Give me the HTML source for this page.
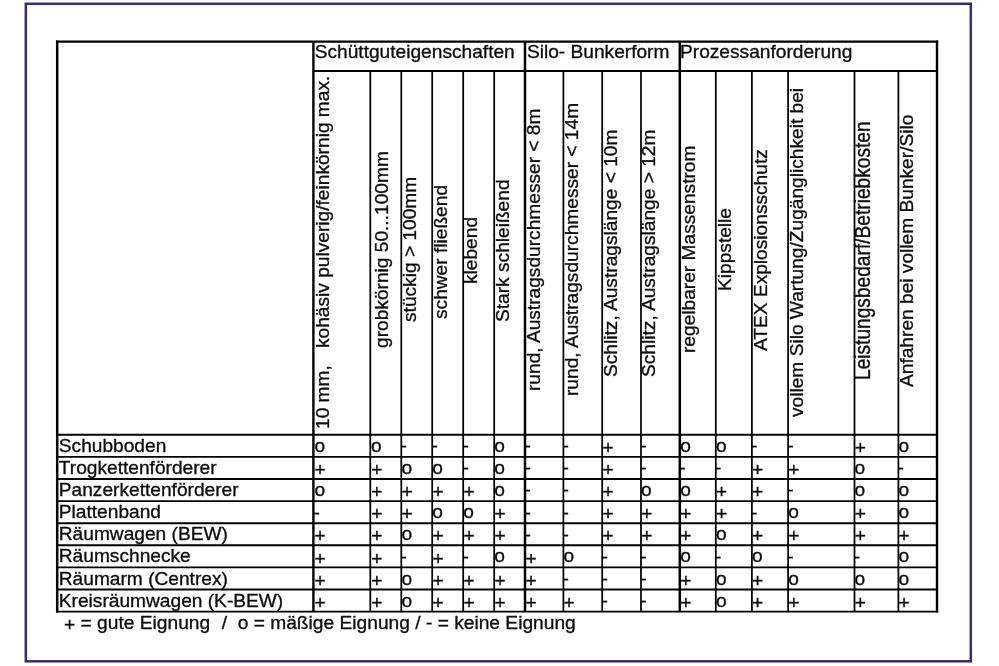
<!DOCTYPE html>
<html lang="de"><head><meta charset="utf-8"><title>Eignungstabelle</title>
<style>
html,body{margin:0;padding:0;background:#fff;}
body{width:999px;height:666px;position:relative;overflow:hidden;font-family:"Liberation Sans",sans-serif;color:#0c0c0c;}
svg{position:absolute;left:0;top:0;}
.t,.v{-webkit-text-stroke:0.33px #0c0c0c;position:absolute;white-space:nowrap;font-size:19.15px;line-height:1;transform-origin:0 0;}
</style></head><body>
<svg width="999" height="666" viewBox="0 0 999 666">
<rect x="25.8" y="3.75" width="945.0" height="657.55" fill="none" stroke="#322c84" stroke-width="2.5"/>
<g stroke="#000" fill="none">
<line x1="57.20" y1="40.40" x2="57.20" y2="612.55" stroke-width="2.5"/>
<line x1="937.00" y1="40.40" x2="937.00" y2="612.55" stroke-width="2.4"/>
<line x1="55.95" y1="41.60" x2="938.20" y2="41.60" stroke-width="2.4"/>
<line x1="55.95" y1="611.60" x2="938.20" y2="611.60" stroke-width="1.9"/>
<line x1="313.40" y1="41.60" x2="313.40" y2="611.60" stroke-width="2.4"/>
<line x1="370.30" y1="71.05" x2="370.30" y2="611.60" stroke-width="1.75"/>
<line x1="401.30" y1="71.05" x2="401.30" y2="611.60" stroke-width="1.75"/>
<line x1="432.20" y1="71.05" x2="432.20" y2="611.60" stroke-width="1.75"/>
<line x1="463.20" y1="71.05" x2="463.20" y2="611.60" stroke-width="1.75"/>
<line x1="494.20" y1="71.05" x2="494.20" y2="611.60" stroke-width="1.75"/>
<line x1="525.00" y1="41.60" x2="525.00" y2="611.60" stroke-width="2.5"/>
<line x1="563.40" y1="71.05" x2="563.40" y2="611.60" stroke-width="1.75"/>
<line x1="602.20" y1="71.05" x2="602.20" y2="611.60" stroke-width="1.75"/>
<line x1="641.00" y1="71.05" x2="641.00" y2="611.60" stroke-width="1.75"/>
<line x1="679.80" y1="41.60" x2="679.80" y2="611.60" stroke-width="2.5"/>
<line x1="715.80" y1="71.05" x2="715.80" y2="611.60" stroke-width="1.75"/>
<line x1="751.90" y1="71.05" x2="751.90" y2="611.60" stroke-width="1.75"/>
<line x1="788.10" y1="71.05" x2="788.10" y2="611.60" stroke-width="1.75"/>
<line x1="854.50" y1="71.05" x2="854.50" y2="611.60" stroke-width="1.75"/>
<line x1="898.40" y1="71.05" x2="898.40" y2="611.60" stroke-width="1.75"/>
<line x1="313.40" y1="71.05" x2="937.00" y2="71.05" stroke-width="1.9"/>
<line x1="57.20" y1="434.80" x2="937.00" y2="434.80" stroke-width="1.9"/>
<line x1="57.20" y1="456.90" x2="937.00" y2="456.90" stroke-width="1.9"/>
<line x1="57.20" y1="479.00" x2="937.00" y2="479.00" stroke-width="1.9"/>
<line x1="57.20" y1="501.10" x2="937.00" y2="501.10" stroke-width="1.9"/>
<line x1="57.20" y1="523.20" x2="937.00" y2="523.20" stroke-width="1.9"/>
<line x1="57.20" y1="545.30" x2="937.00" y2="545.30" stroke-width="1.9"/>
<line x1="57.20" y1="567.40" x2="937.00" y2="567.40" stroke-width="1.9"/>
<line x1="57.20" y1="589.50" x2="937.00" y2="589.50" stroke-width="1.9"/>
</g></svg>
<div id="txt" style="position:absolute;left:0;top:0;width:999px;height:666px;will-change:transform">
<div class="t" style="left:314.70px;top:42.49px;">Schüttguteigenschaften</div>
<div class="t" style="left:526.90px;top:42.49px;">Silo- Bunkerform</div>
<div class="t" style="left:680.00px;top:42.49px;">Prozessanforderung</div>
<div class="v" style="left:313.19px;top:428.50px;transform:rotate(-90deg)">10 mm,<span style="letter-spacing:0.4px">   </span>kohäsiv pulverig/feinkörnig max.</div>
<div class="v" style="left:371.69px;top:347.75px;transform:rotate(-90deg)">grobkörnig 50...100mm</div>
<div class="v" style="left:400.14px;top:322.44px;transform:rotate(-90deg)">stückig > 100mm</div>
<div class="v" style="left:431.39px;top:318.90px;transform:rotate(-90deg)">schwer fließend</div>
<div class="v" style="left:460.99px;top:284.00px;transform:rotate(-90deg)">klebend</div>
<div class="v" style="left:493.19px;top:321.94px;transform:rotate(-90deg)">Stark schleißend</div>
<div class="v" style="left:524.29px;top:391.10px;transform:rotate(-90deg)">rund, Austragsdurchmesser < 8m</div>
<div class="v" style="left:562.29px;top:395.90px;transform:rotate(-90deg)">rund, Austragsdurchmesser < 14m</div>
<div class="v" style="left:601.19px;top:376.80px;transform:rotate(-90deg)">Schlitz, Austragslänge < 10m</div>
<div class="v" style="left:639.49px;top:376.80px;transform:rotate(-90deg)">Schlitz, Austragslänge > 12m</div>
<div class="v" style="left:678.79px;top:353.40px;transform:rotate(-90deg)">regelbarer Massenstrom</div>
<div class="v" style="left:714.89px;top:291.40px;transform:rotate(-90deg)">Kippstelle</div>
<div class="v" style="left:751.19px;top:350.90px;transform:rotate(-90deg)">ATEX Explosionsschutz</div>
<div class="v" style="left:786.69px;top:417.00px;transform:rotate(-90deg)">vollem Silo Wartung/Zugänglichkeit bei</div>
<div class="v" style="left:851.68px;top:380.40px;transform:rotate(-90deg) scaleY(1.13)">Leistungsbedarf/Betriebkosten</div>
<div class="v" style="left:897.29px;top:386.50px;transform:rotate(-90deg)">Anfahren bei vollem Bunker/Silo</div>
<div class="t" style="left:58.80px;top:435.94px;">Schubboden</div>
<div class="t" style="left:314.50px;top:435.94px;">o</div>
<div class="t" style="left:371.08px;top:435.94px;">o</div>
<div class="t" style="left:400.48px;top:436.24px;">-</div>
<div class="t" style="left:431.38px;top:436.24px;">-</div>
<div class="t" style="left:462.38px;top:436.24px;">-</div>
<div class="t" style="left:494.28px;top:435.94px;">o</div>
<div class="t" style="left:524.55px;top:436.24px;">-</div>
<div class="t" style="left:562.58px;top:436.24px;">-</div>
<div class="t" style="left:602.38px;top:438.04px;">+</div>
<div class="t" style="left:640.18px;top:436.24px;">-</div>
<div class="t" style="left:680.25px;top:435.94px;">o</div>
<div class="t" style="left:715.88px;top:435.94px;">o</div>
<div class="t" style="left:751.08px;top:436.24px;">-</div>
<div class="t" style="left:787.28px;top:436.24px;">-</div>
<div class="t" style="left:854.68px;top:438.04px;">+</div>
<div class="t" style="left:898.48px;top:435.94px;">o</div>
<div class="t" style="left:58.80px;top:458.04px;">Trogkettenförderer</div>
<div class="t" style="left:314.60px;top:460.14px;">+</div>
<div class="t" style="left:371.18px;top:460.14px;">+</div>
<div class="t" style="left:401.38px;top:458.04px;">o</div>
<div class="t" style="left:432.28px;top:458.04px;">o</div>
<div class="t" style="left:462.38px;top:458.34px;">-</div>
<div class="t" style="left:494.28px;top:458.04px;">o</div>
<div class="t" style="left:524.55px;top:458.34px;">-</div>
<div class="t" style="left:562.58px;top:458.34px;">-</div>
<div class="t" style="left:602.38px;top:460.14px;">+</div>
<div class="t" style="left:640.18px;top:458.34px;">-</div>
<div class="t" style="left:679.35px;top:458.34px;">-</div>
<div class="t" style="left:714.98px;top:458.34px;">-</div>
<div class="t" style="left:752.08px;top:460.14px;">+</div>
<div class="t" style="left:788.28px;top:460.14px;">+</div>
<div class="t" style="left:854.58px;top:458.04px;">o</div>
<div class="t" style="left:897.58px;top:458.34px;">-</div>
<div class="t" style="left:58.80px;top:480.14px;">Panzerkettenförderer</div>
<div class="t" style="left:314.50px;top:480.14px;">o</div>
<div class="t" style="left:371.18px;top:482.24px;">+</div>
<div class="t" style="left:401.48px;top:482.24px;">+</div>
<div class="t" style="left:432.38px;top:482.24px;">+</div>
<div class="t" style="left:463.38px;top:482.24px;">+</div>
<div class="t" style="left:494.28px;top:480.14px;">o</div>
<div class="t" style="left:524.55px;top:480.44px;">-</div>
<div class="t" style="left:562.58px;top:480.44px;">-</div>
<div class="t" style="left:602.38px;top:482.24px;">+</div>
<div class="t" style="left:641.08px;top:480.14px;">o</div>
<div class="t" style="left:680.25px;top:480.14px;">o</div>
<div class="t" style="left:715.98px;top:482.24px;">+</div>
<div class="t" style="left:752.08px;top:482.24px;">+</div>
<div class="t" style="left:787.28px;top:480.44px;">-</div>
<div class="t" style="left:854.58px;top:480.14px;">o</div>
<div class="t" style="left:898.48px;top:480.14px;">o</div>
<div class="t" style="left:58.80px;top:502.24px;">Plattenband</div>
<div class="t" style="left:313.60px;top:502.54px;">-</div>
<div class="t" style="left:371.18px;top:504.34px;">+</div>
<div class="t" style="left:401.48px;top:504.34px;">+</div>
<div class="t" style="left:432.28px;top:502.24px;">o</div>
<div class="t" style="left:463.28px;top:502.24px;">o</div>
<div class="t" style="left:494.38px;top:504.34px;">+</div>
<div class="t" style="left:524.55px;top:502.54px;">-</div>
<div class="t" style="left:562.58px;top:502.54px;">-</div>
<div class="t" style="left:602.38px;top:504.34px;">+</div>
<div class="t" style="left:641.18px;top:504.34px;">+</div>
<div class="t" style="left:680.35px;top:504.34px;">+</div>
<div class="t" style="left:715.98px;top:504.34px;">+</div>
<div class="t" style="left:751.08px;top:502.54px;">-</div>
<div class="t" style="left:788.18px;top:502.24px;">o</div>
<div class="t" style="left:854.68px;top:504.34px;">+</div>
<div class="t" style="left:898.48px;top:502.24px;">o</div>
<div class="t" style="left:58.80px;top:524.34px;">Räumwagen (BEW)</div>
<div class="t" style="left:314.60px;top:526.44px;">+</div>
<div class="t" style="left:371.18px;top:526.44px;">+</div>
<div class="t" style="left:401.38px;top:524.34px;">o</div>
<div class="t" style="left:432.38px;top:526.44px;">+</div>
<div class="t" style="left:463.38px;top:526.44px;">+</div>
<div class="t" style="left:494.38px;top:526.44px;">+</div>
<div class="t" style="left:524.55px;top:524.64px;">-</div>
<div class="t" style="left:562.58px;top:524.64px;">-</div>
<div class="t" style="left:602.38px;top:526.44px;">+</div>
<div class="t" style="left:641.18px;top:526.44px;">+</div>
<div class="t" style="left:680.35px;top:526.44px;">+</div>
<div class="t" style="left:715.88px;top:524.34px;">o</div>
<div class="t" style="left:752.08px;top:526.44px;">+</div>
<div class="t" style="left:788.28px;top:526.44px;">+</div>
<div class="t" style="left:854.68px;top:526.44px;">+</div>
<div class="t" style="left:898.58px;top:526.44px;">+</div>
<div class="t" style="left:58.80px;top:546.44px;">Räumschnecke</div>
<div class="t" style="left:314.60px;top:548.54px;">+</div>
<div class="t" style="left:371.18px;top:548.54px;">+</div>
<div class="t" style="left:400.48px;top:546.74px;">-</div>
<div class="t" style="left:432.38px;top:548.54px;">+</div>
<div class="t" style="left:462.38px;top:546.74px;">-</div>
<div class="t" style="left:494.28px;top:546.44px;">o</div>
<div class="t" style="left:525.55px;top:548.54px;">+</div>
<div class="t" style="left:563.48px;top:546.44px;">o</div>
<div class="t" style="left:601.38px;top:546.74px;">-</div>
<div class="t" style="left:640.18px;top:546.74px;">-</div>
<div class="t" style="left:680.25px;top:546.44px;">o</div>
<div class="t" style="left:714.98px;top:546.74px;">-</div>
<div class="t" style="left:751.98px;top:546.44px;">o</div>
<div class="t" style="left:787.28px;top:546.74px;">-</div>
<div class="t" style="left:853.68px;top:546.74px;">-</div>
<div class="t" style="left:898.48px;top:546.44px;">o</div>
<div class="t" style="left:58.80px;top:568.54px;">Räumarm (Centrex)</div>
<div class="t" style="left:314.60px;top:570.64px;">+</div>
<div class="t" style="left:371.18px;top:570.64px;">+</div>
<div class="t" style="left:401.38px;top:568.54px;">o</div>
<div class="t" style="left:432.38px;top:570.64px;">+</div>
<div class="t" style="left:463.38px;top:570.64px;">+</div>
<div class="t" style="left:494.38px;top:570.64px;">+</div>
<div class="t" style="left:525.55px;top:570.64px;">+</div>
<div class="t" style="left:562.58px;top:568.84px;">-</div>
<div class="t" style="left:601.38px;top:568.84px;">-</div>
<div class="t" style="left:640.18px;top:568.84px;">-</div>
<div class="t" style="left:680.35px;top:570.64px;">+</div>
<div class="t" style="left:715.88px;top:568.54px;">o</div>
<div class="t" style="left:752.08px;top:570.64px;">+</div>
<div class="t" style="left:788.18px;top:568.54px;">o</div>
<div class="t" style="left:854.58px;top:568.54px;">o</div>
<div class="t" style="left:898.48px;top:568.54px;">o</div>
<div class="t" style="left:58.80px;top:590.64px;">Kreisräumwagen (K-BEW)</div>
<div class="t" style="left:314.60px;top:592.74px;">+</div>
<div class="t" style="left:371.18px;top:592.74px;">+</div>
<div class="t" style="left:401.38px;top:590.64px;">o</div>
<div class="t" style="left:432.38px;top:592.74px;">+</div>
<div class="t" style="left:463.38px;top:592.74px;">+</div>
<div class="t" style="left:494.38px;top:592.74px;">+</div>
<div class="t" style="left:525.55px;top:592.74px;">+</div>
<div class="t" style="left:563.58px;top:592.74px;">+</div>
<div class="t" style="left:601.38px;top:590.94px;">-</div>
<div class="t" style="left:640.18px;top:590.94px;">-</div>
<div class="t" style="left:680.35px;top:592.74px;">+</div>
<div class="t" style="left:715.88px;top:590.64px;">o</div>
<div class="t" style="left:752.08px;top:592.74px;">+</div>
<div class="t" style="left:788.28px;top:592.74px;">+</div>
<div class="t" style="left:854.68px;top:592.74px;">+</div>
<div class="t" style="left:898.58px;top:592.74px;">+</div>
<div class="t" style="left:64.00px;top:612.89px;font-size:19.2px"><span style="position:relative;top:2.2px">+</span> = gute Eignung <span style="letter-spacing:0.8px"> </span>/  o = mäßige Eignung / - = keine Eignung</div>
</div>
</body></html>
